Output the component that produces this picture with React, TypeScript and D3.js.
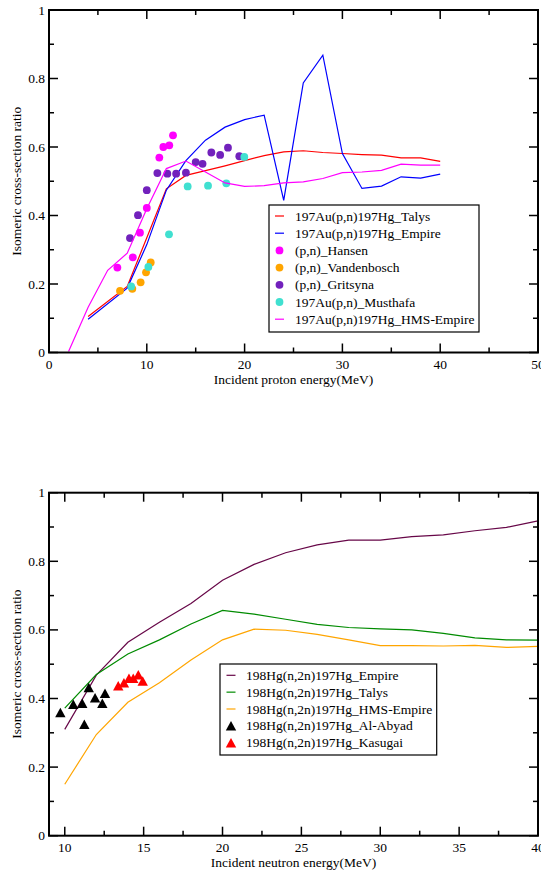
import React from "react";
import * as d3 from "d3";

// ---------- Top panel data (proton) ----------
const talysPE = [4, 8, 10, 12, 14, 16, 18, 20, 22, 24, 26, 28, 30, 32, 34, 36, 38, 40];
const talysPV = [0.105, 0.193, 0.335, 0.478, 0.517, 0.531, 0.545, 0.56, 0.575, 0.586, 0.589, 0.584, 0.581, 0.578, 0.576, 0.568, 0.568, 0.558];
const empirePE = [4, 8, 10, 12, 14, 16, 18, 20, 22, 24, 26, 28, 30, 32, 34, 36, 38, 40];
const empirePV = [0.097, 0.188, 0.315, 0.474, 0.56, 0.62, 0.658, 0.68, 0.693, 0.444, 0.787, 0.868, 0.581, 0.479, 0.486, 0.513, 0.509, 0.521];
const hmsPE = [2, 4, 6, 8, 10, 12, 14, 16, 18, 20, 22, 24, 26, 28, 30, 32, 34, 36, 38, 40];
const hmsPV = [0.003, 0.132, 0.24, 0.29, 0.42, 0.537, 0.559, 0.527, 0.495, 0.485, 0.487, 0.495, 0.498, 0.508, 0.525, 0.527, 0.532, 0.55, 0.547, 0.547];
const hansenE = [6.99, 8.57, 9.3, 10.0, 11.28, 11.69, 12.3, 12.68];
const hansenV = [0.248, 0.278, 0.35, 0.422, 0.569, 0.6, 0.605, 0.634];
const vandenE = [7.26, 8.52, 9.37, 9.92, 10.4];
const vandenV = [0.18, 0.186, 0.205, 0.234, 0.263];
const gritE = [8.28, 9.1, 10.0, 11.08, 12.1, 13.0, 14.0, 15.0, 15.7, 16.6, 17.5, 18.3, 19.46];
const gritV = [0.334, 0.401, 0.474, 0.524, 0.522, 0.522, 0.525, 0.556, 0.551, 0.584, 0.577, 0.598, 0.573];
const musE = [8.4, 10.16, 12.27, 14.18, 16.26, 18.13, 19.97];
const musV = [0.193, 0.25, 0.345, 0.485, 0.487, 0.494, 0.571];

// ---------- Bottom panel data (neutron) ----------
const neutronE = [10, 12, 14, 16, 18, 20, 22, 24, 26, 28, 30, 32, 34, 36, 38, 40];
const empireNV = [0.31, 0.468, 0.564, 0.622, 0.677, 0.745, 0.791, 0.825, 0.848, 0.862, 0.862, 0.872, 0.877, 0.889, 0.899, 0.918];
const talysNV = [0.372, 0.47, 0.53, 0.571, 0.617, 0.657, 0.646, 0.631, 0.616, 0.607, 0.603, 0.6, 0.59, 0.577, 0.571, 0.57];
const hmsNV = [0.15, 0.295, 0.389, 0.446, 0.512, 0.571, 0.602, 0.599, 0.587, 0.571, 0.554, 0.554, 0.553, 0.555, 0.549, 0.552];
const abyadE = [9.72, 10.54, 11.11, 11.24, 11.52, 11.92, 12.38, 12.55];
const abyadV = [0.359, 0.383, 0.386, 0.325, 0.432, 0.402, 0.386, 0.415];
const kasugaiE = [13.39, 13.75, 14.07, 14.34, 14.66, 14.94];
const kasugaiV = [0.437, 0.446, 0.459, 0.459, 0.469, 0.451];

const topLegend = [
  "197Au(p,n)197Hg_Talys",
  "197Au(p,n)197Hg_Empire",
  "(p,n)_Hansen",
  "(p,n)_Vandenbosch",
  "(p,n)_Gritsyna",
  "197Au(p,n)_Musthafa",
  "197Au(p,n)197Hg_HMS-Empire",
];
const bottomLegend = [
  "198Hg(n,2n)197Hg_Empire",
  "198Hg(n,2n)197Hg_Talys",
  "198Hg(n,2n)197Hg_HMS-Empire",
  "198Hg(n,2n)197Hg_Al-Abyad",
  "198Hg(n,2n)197Hg_Kasugai",
];

const FONT = "'Liberation Serif', 'Times New Roman', serif";

type Series = {
  kind: "line" | "circle" | "triangle";
  xs: number[];
  ys: number[];
  color: string;
  label: string;
};

type PanelProps = {
  xDomain: [number, number];
  x0: number; x1: number; y0: number; y1: number;
  xMajor: number[]; xMinor: number[];
  xTitle: string;
  series: Series[];
  legendBox: { x: number; y: number; w: number; h: number; row0: number; step: number; sym: number; text: number };
};

function tri(cx: number, cy: number) {
  const w = 5.2, h = 9.5;
  return `M${cx},${cy - h / 2}L${cx + w},${cy + h / 2}L${cx - w},${cy + h / 2}Z`;
}

function Panel(p: PanelProps) {
  const x = d3.scaleLinear().domain(p.xDomain).range([p.x0, p.x1]);
  const y = d3.scaleLinear().domain([0, 1]).range([p.y1, p.y0]);
  const yMajor = y.ticks(5);
  const yMinor = y.ticks(10);
  const line = d3.line<[number, number]>().x((d) => x(d[0])).y((d) => y(d[1]));
  const fmt = (v: number) => String(+v.toFixed(1));
  const MJ = 9, MN = 5;
  const lb = p.legendBox;
  return (
    <g>
      {p.series.map((s, i) => {
        const pts = s.xs.map((v, j) => [v, s.ys[j]] as [number, number]);
        if (s.kind === "line")
          return <path key={i} d={line(pts) || ""} fill="none" stroke={s.color} strokeWidth={1.2} />;
        if (s.kind === "circle")
          return (
            <g key={i}>
              {pts.map((d, j) => (
                <circle key={j} cx={x(d[0])} cy={y(d[1])} r={3.9} fill={s.color} />
              ))}
            </g>
          );
        return (
          <g key={i}>
            {pts.map((d, j) => (
              <path key={j} d={tri(x(d[0]), y(d[1]))} fill={s.color} />
            ))}
          </g>
        );
      })}
      {/* ticks */}
      <g stroke="#000" strokeWidth={1.5}>
        {p.xMinor.map((v, i) => {
          const major = p.xMajor.some((m) => Math.abs(m - v) < 1e-9);
          const L = major ? MJ : MN;
          return (
            <g key={"xt" + i}>
              <line x1={x(v)} x2={x(v)} y1={p.y1} y2={p.y1 - L} />
              <line x1={x(v)} x2={x(v)} y1={p.y0} y2={p.y0 + L} />
            </g>
          );
        })}
        {yMinor.map((v, i) => {
          const major = yMajor.some((m) => Math.abs(m - v) < 1e-9);
          const L = major ? MJ : MN;
          return (
            <g key={"yt" + i}>
              <line x1={p.x0} x2={p.x0 + L} y1={y(v)} y2={y(v)} />
              <line x1={p.x1} x2={p.x1 - L} y1={y(v)} y2={y(v)} />
            </g>
          );
        })}
      </g>
      <rect x={p.x0} y={p.y0} width={p.x1 - p.x0} height={p.y1 - p.y0} fill="none" stroke="#000" strokeWidth={2} />
      {/* tick labels */}
      <g fontFamily={FONT} fontSize={13.5} fill="#000">
        {p.xMajor.map((v, i) => (
          <text key={"xl" + i} x={x(v)} y={p.y1 + 16} textAnchor="middle">{fmt(v)}</text>
        ))}
        {yMajor.map((v, i) => (
          <text key={"yl" + i} x={p.x0 - 4} y={y(v) + 4.5} textAnchor="end">{fmt(v)}</text>
        ))}
        <text x={(p.x0 + p.x1) / 2} y={p.y1 + 31} textAnchor="middle">{p.xTitle}</text>
        <text transform={`translate(21,${(p.y0 + p.y1) / 2}) rotate(-90)`} textAnchor="middle">Isomeric cross-section ratio</text>
      </g>
      {/* legend */}
      <rect x={lb.x} y={lb.y} width={lb.w} height={lb.h} fill="#fff" stroke="#000" strokeWidth={1.2} />
      {p.series.map((s, i) => {
        const cy = lb.row0 + i * lb.step;
        let sym;
        if (s.kind === "line")
          sym = <line x1={lb.sym - 4.5} x2={lb.sym + 4.5} y1={cy} y2={cy} stroke={s.color} strokeWidth={1.2} />;
        else if (s.kind === "circle") sym = <circle cx={lb.sym} cy={cy} r={3.9} fill={s.color} />;
        else sym = <path d={tri(lb.sym, cy)} fill={s.color} />;
        return (
          <g key={"lg" + i}>
            {sym}
            <text x={lb.text} y={cy + 4.5} fontFamily={FONT} fontSize={13.5} fill="#000">{s.label}</text>
          </g>
        );
      })}
    </g>
  );
}

export default function App() {
  const topSeries: Series[] = [
    { kind: "line", xs: talysPE, ys: talysPV, color: "#ff0000", label: topLegend[0] },
    { kind: "line", xs: empirePE, ys: empirePV, color: "#0000ff", label: topLegend[1] },
    { kind: "circle", xs: hansenE, ys: hansenV, color: "#ff00ff", label: topLegend[2] },
    { kind: "circle", xs: vandenE, ys: vandenV, color: "#ffa500", label: topLegend[3] },
    { kind: "circle", xs: gritE, ys: gritV, color: "#7221bc", label: topLegend[4] },
    { kind: "circle", xs: musE, ys: musV, color: "#40e0d0", label: topLegend[5] },
    { kind: "line", xs: hmsPE, ys: hmsPV, color: "#ff00ff", label: topLegend[6] },
  ];
  const bottomSeries: Series[] = [
    { kind: "line", xs: neutronE, ys: empireNV, color: "#670748", label: bottomLegend[0] },
    { kind: "line", xs: neutronE, ys: talysNV, color: "#008b00", label: bottomLegend[1] },
    { kind: "line", xs: neutronE, ys: hmsNV, color: "#ffa500", label: bottomLegend[2] },
    { kind: "triangle", xs: abyadE, ys: abyadV, color: "#000000", label: bottomLegend[3] },
    { kind: "triangle", xs: kasugaiE, ys: kasugaiV, color: "#ff0000", label: bottomLegend[4] },
  ];
  return (
    <svg width={541} height={870} style={{ position: "absolute", left: 0, top: 0, background: "#fff" }}>
      <rect width={541} height={870} fill="#fff" />
      <Panel
        xDomain={[0, 50]}
        x0={49} x1={538} y0={10} y1={352.5}
        xMajor={d3.range(0, 51, 10)}
        xMinor={d3.range(0, 51, 5)}
        xTitle="Incident proton energy(MeV)"
        series={topSeries}
        legendBox={{ x: 269, y: 205, w: 210, h: 127, row0: 216, step: 17.2, sym: 279.5, text: 295 }}
      />
      <Panel
        xDomain={[9, 40]}
        x0={49} x1={538} y0={492.7} y1={835.7}
        xMajor={d3.range(10, 41, 5)}
        xMinor={d3.range(10, 40.1, 2.5)}
        xTitle="Incident neutron energy(MeV)"
        series={bottomSeries}
        legendBox={{ x: 220, y: 664, w: 216.7, h: 91, row0: 675.3, step: 16.85, sym: 231, text: 246 }}
      />
    </svg>
  );
}
